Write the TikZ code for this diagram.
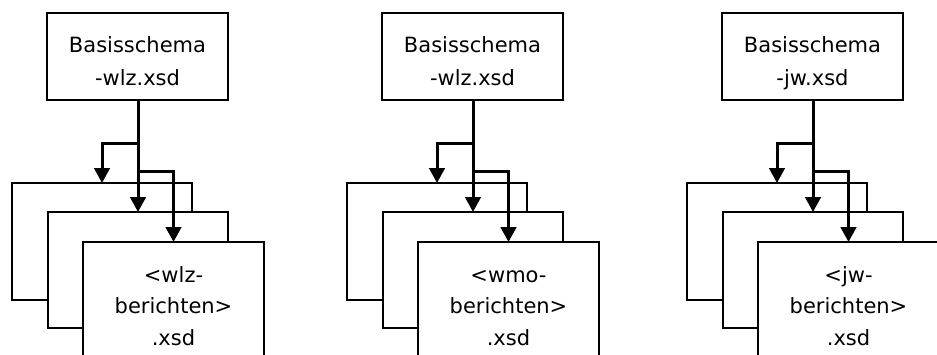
\documentclass[tikz,border=0pt]{standalone}
\usepackage{fontspec}
\setmainfont{DejaVu Sans}
\usetikzlibrary{arrows.meta}
\newcommand\drawpanel[4]{%
  \begin{scope}[xshift=#1pt]
    \node[box,minimum width=181,minimum height=87] (t#2) at (137.5,56.5) {};
    \node[lbl] (tl#2) at (137.5,62) {\strut Basisschema\\\strut #3};
    \node[box,minimum width=180,minimum height=117] (ma#2) at (102,241.5) {};
    \node[box,minimum width=180,minimum height=116] (mb#2) at (138,270) {};
    \node[box,minimum width=181,minimum height=131,lbl3] (mc#2) at (173.5,307.5)
      {\strut <#4-\\\strut berichten>\\\strut .xsd};
    \coordinate (ja#2) at (138,143);
    \coordinate (jb#2) at (138,171);
    \draw[arr] (mb#2.north |- t#2.south) -- (mb#2.north);
    \draw[arr] (ja#2) -| (ma#2.north);
    \draw[arr] (jb#2) -| (mc#2.north);
  \end{scope}}
\begin{document}
\begin{tikzpicture}[x=1pt,y=-1pt,
  box/.style={draw,line width=1.8pt,fill=white,inner sep=0pt,outer sep=0pt,rectangle},
  lbl/.style={align=center,font=\fontsize{21}{33}\selectfont,inner sep=0pt},
  lbl3/.style={align=center,font=\fontsize{21}{31.5}\selectfont},
  arr/.style={line width=3pt,-{Triangle[length=15pt 0 0,width=15.5pt 0 0]}}]
\useasboundingbox (0,0) rectangle (937,354);
\clip (0,0) rectangle (937,354);
\drawpanel{0}{A}{-wlz.xsd}{wlz}
\drawpanel{335}{B}{-wlz.xsd}{wmo}
\drawpanel{675}{C}{-jw.xsd}{jw}
\end{tikzpicture}
\end{document}
